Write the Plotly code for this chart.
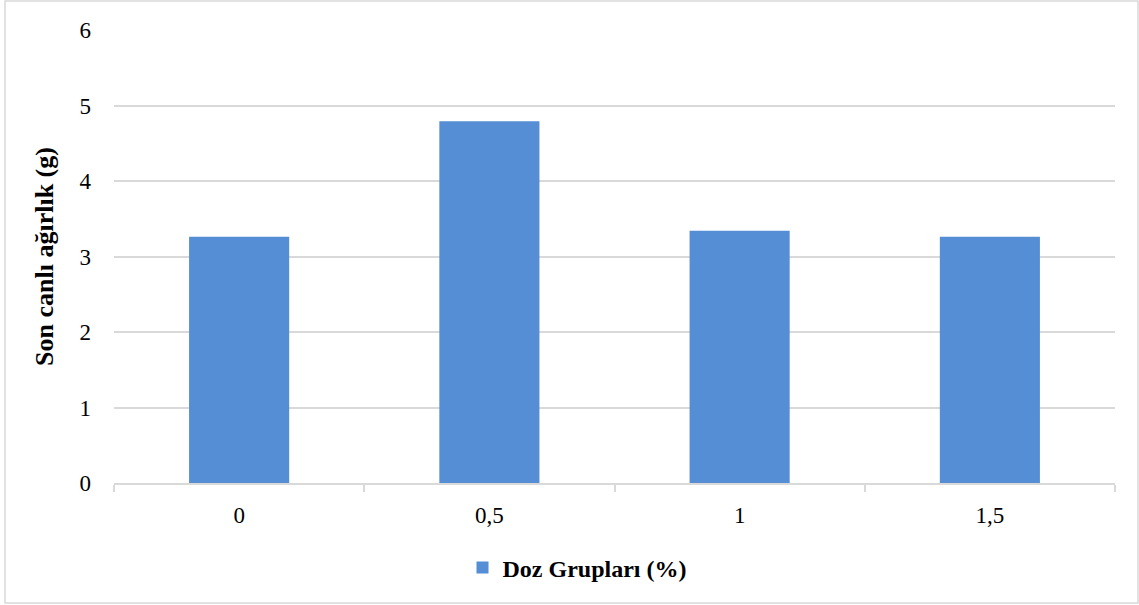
import plotly.graph_objects as go

categories = ["0", "0,5", "1", "1,5"]
values = [3.26, 4.79, 3.34, 3.26]
series_name = "Doz Grupları (%)"
y_title = "Son canlı ağırlık (g)"
y_ticks = [0, 1, 2, 3, 4, 5, 6]

W, H = 1139, 605
L, R, T, B = 114, 24, 30, 122
pw, ph = W - L - R, H - T - B

def px(x):
    return (x - L) / pw

def py(y):
    return (H - B - y) / ph

fig = go.Figure()
fig.add_trace(go.Bar(x=categories, y=values, name="<b>" + series_name + "</b>",
                     marker=dict(color="#558ED5", line=dict(width=0)),
                     showlegend=True))

font_family = "Liberation Serif, Times New Roman, serif"
fig.update_layout(
    width=W, height=H,
    margin=dict(l=L, r=R, t=T, b=B),
    paper_bgcolor="white", plot_bgcolor="white",
    bargap=0.6,
    font=dict(family=font_family, size=22, color="#000000"),
    showlegend=True,
    legend=dict(orientation="h", x=px(577), xanchor="center", y=py(568), yanchor="middle",
                font=dict(family=font_family, size=24, color="#000000"),
                itemsizing="constant", itemwidth=30),
    xaxis=dict(type="category", showline=True, linecolor="#D9D9D9", linewidth=2,
               ticks="outside", tickson="boundaries", ticklen=7, tickcolor="#D9D9D9", tickwidth=2,
               ticklabelstandoff=10, tickfont=dict(size=23), showgrid=False),
    yaxis=dict(range=[0, 6], tickvals=y_ticks, showline=False, showgrid=True,
               gridcolor="#D9D9D9", gridwidth=1.5, zeroline=False,
               ticklabelstandoff=22, tickfont=dict(size=23),
               title=dict(text="<b>" + y_title + "</b>", font=dict(size=26), standoff=18)),
    shapes=[dict(type="rect", xref="paper", yref="paper",
                 x0=px(5), x1=px(1138), y0=py(603), y1=py(1),
                 line=dict(color="#D9D9D9", width=1.5), fillcolor="rgba(0,0,0,0)", layer="below")],
)

fig.write_html("out.html", config={"displayModeBar": False},
               post_script="document.body.style.margin='0';document.body.style.overflow='hidden';")
